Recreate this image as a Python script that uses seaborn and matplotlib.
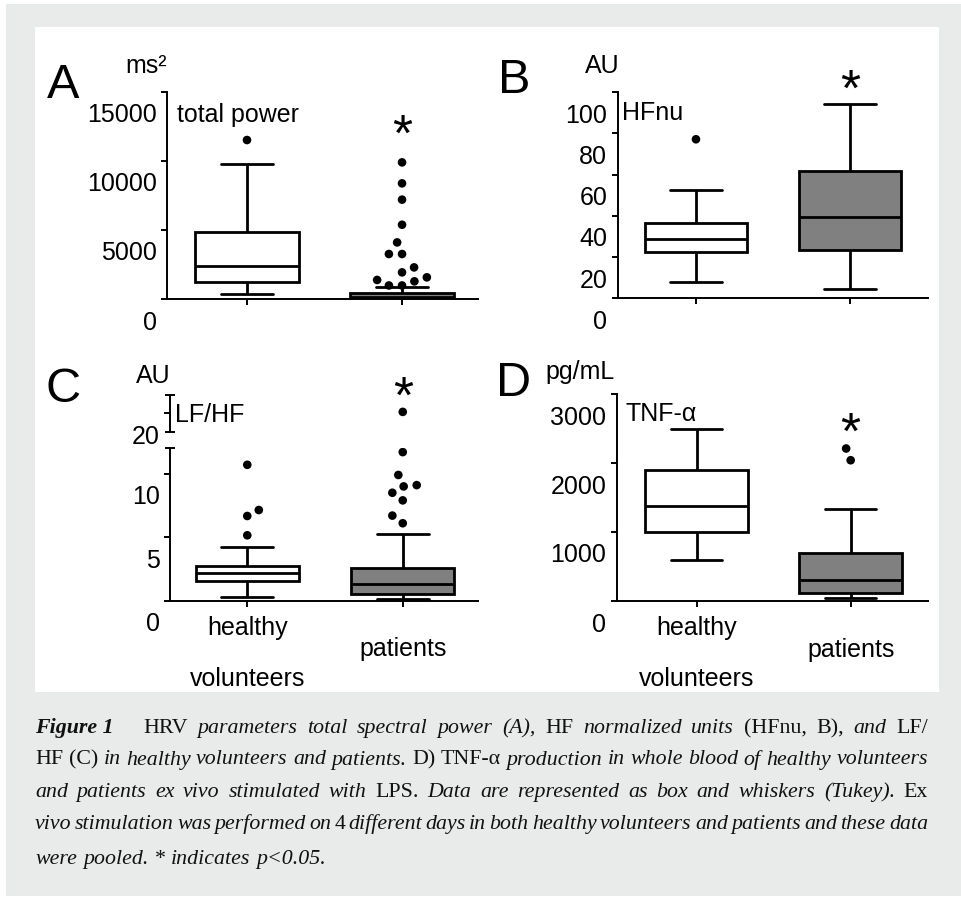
import numpy as np
import pandas as pd
import matplotlib
matplotlib.use("Agg")
import matplotlib.pyplot as plt
import matplotlib.transforms as mtransforms
from matplotlib.patches import Rectangle
from matplotlib.ticker import FixedLocator
import seaborn as sns

# ---------------------------------------------------------------- data
groups = ["healthy volunteers", "patients"]
box_colors = ["#ffffff", "#808080"]

# Tukey box summaries per group: lower whisker, Q1, median, Q3, upper whisker
power_healthy = [362, 1232, 2391, 4855, 9783]
power_patients = [10, 40, 150, 420, 850]
power_out_healthy = [11520]
power_out_patients = [9900, 8380, 7200, 5380, 4100, 3260, 3260, 2290, 1930,
                      1570, 1380, 1280, 980, 980]

hfnu_healthy = [7.8, 22.6, 28.6, 36.7, 52.6]
hfnu_patients = [4.4, 23.4, 39.3, 61.9, 94.3]
hfnu_out_healthy = [77.2]
hfnu_out_patients = []

lfhf_healthy = [0.27, 1.58, 2.16, 2.76, 4.26]
lfhf_patients = [0.10, 0.50, 1.32, 2.56, 5.26]
lfhf_out_healthy = [10.7, 7.14, 6.67, 5.15]
lfhf_out_patients = [20.4, 11.7, 9.9, 9.1, 9.0, 8.5, 7.9, 6.7, 6.1]

tnf_healthy = [594, 1004, 1381, 1899, 2488]
tnf_patients = [39, 111, 304, 700, 1329]
tnf_out_healthy = []
tnf_out_patients = [2210, 2040]

power_ticks = [0, 5000, 10000, 15000]
hfnu_ticks = [0, 20, 40, 60, 80, 100]
lfhf_ticks_low = [0, 5, 10]
lfhf_ticks_high = [20]
tnf_ticks = [0, 1000, 2000, 3000]
xtick_labels = ["healthy\n\nvolunteers", "\npatients"]

caption_lines = [
    [("Figure 1", "b"), ("HRV", "r"), ("parameters", "i"), ("total", "i"),
     ("spectral", "i"), ("power", "i"), ("(A),", "i"), ("HF", "r"),
     ("normalized", "i"), ("units", "i"), ("(HFnu,", "r"), ("B),", "r"),
     ("and", "i"), ("LF/", "r")],
    [("HF", "r"), ("(C)", "r"), ("in", "i"), ("healthy", "i"),
     ("volunteers", "i"), ("and", "i"), ("patients.", "i"), ("D)", "r"),
     ("TNF-α", "r"), ("production", "i"), ("in", "i"), ("whole", "i"),
     ("blood", "i"), ("of", "i"), ("healthy", "i"), ("volunteers", "i")],
    [("and", "i"), ("patients", "i"), ("ex", "i"), ("vivo", "i"),
     ("stimulated", "i"), ("with", "i"), ("LPS.", "r"), ("Data", "i"),
     ("are", "i"), ("represented", "i"), ("as", "i"), ("box", "i"),
     ("and", "i"), ("whiskers", "i"), ("(Tukey).", "i"), ("Ex", "r")],
    [("vivo", "i"), ("stimulation", "i"), ("was", "i"), ("performed", "i"),
     ("on", "i"), ("4", "r"), ("different", "i"), ("days", "i"), ("in", "i"),
     ("both", "i"), ("healthy", "i"), ("volunteers", "i"), ("and", "i"),
     ("patients", "i"), ("and", "i"), ("these", "i"), ("data", "i")],
    [("were", "i"), ("pooled.", "i"), ("*", "i"), ("indicates", "i"),
     ("p<0.05.", "i")],
]

# ---------------------------------------------------------------- style
sns.set_theme(style="ticks")
plt.rcParams["font.family"] = ["Liberation Sans", "DejaVu Sans"]
plt.rcParams["axes.linewidth"] = 1.4
plt.rcParams["text.color"] = "black"

W, H = 961, 897
DPI = 100
fig = plt.figure(figsize=(W / DPI, H / DPI), dpi=DPI, facecolor="white")


def fx(x):
    return x / W


def fy(y):
    return 1 - y / H


# page background: grey frame with a white plotting area
fig.patches.append(Rectangle((fx(6), fy(896)), fx(955), 892 / H,
                             transform=fig.transFigure, facecolor="#e9eaea",
                             edgecolor="none", zorder=-3))
fig.patches.append(Rectangle((fx(35), fy(692)), fx(904), 665 / H,
                             transform=fig.transFigure, facecolor="white",
                             edgecolor="none", zorder=-2))


def add_axes_px(left, top, right, bottom):
    ax = fig.add_axes([fx(left), fy(bottom), (right - left) / W,
                       (bottom - top) / H])
    ax.set_facecolor("none")
    return ax


def frame(h, p):
    return pd.DataFrame({"group": [groups[0]] * len(h) + [groups[1]] * len(p),
                         "value": list(h) + list(p)})


TICK_FS = 18
label_shift = mtransforms.ScaledTranslation(0, -21 / DPI, fig.dpi_scale_trans)
label_spacing = [1.07, 0.86]


def draw_panel(ax, box_h, box_p, out_h, out_p, xlim, ylim, yticks,
               ylabels=None, keep=None, xlabels=None, bottom=True):
    sns.boxplot(data=frame(box_h, box_p), x="group", y="value", hue="group",
                order=groups, hue_order=groups,
                palette=dict(zip(groups, box_colors)), saturation=1,
                width=0.665, whis=np.inf, showfliers=False,
                linecolor="black", linewidth=2.0, legend=False, ax=ax)
    pts = frame(out_h, out_p)
    if keep is not None:
        pts = pts[(pts["value"] >= keep[0]) & (pts["value"] <= keep[1])]
    sns.swarmplot(data=pts, x="group", y="value", order=groups,
                  color="black", size=6.2, linewidth=2.8, edgecolor="none",
                  ax=ax)
    ax.set_xlim(*xlim)
    ax.set_ylim(*ylim)
    ax.set_xlabel("")
    ax.set_ylabel("")
    ax.yaxis.set_major_locator(FixedLocator(yticks))
    ax.set_yticklabels(ylabels if ylabels is not None
                       else [f"{t:g}" for t in yticks])
    ax.tick_params(axis="both", which="major", direction="out", length=4,
                   width=1.4, color="black", labelsize=TICK_FS,
                   labelcolor="black")
    for tick in ax.yaxis.get_major_ticks():
        tick.label1.set_transform(tick.label1.get_transform() + label_shift)
    if bottom:
        ax.set_xticks([0, 1])
        labs = ax.set_xticklabels(xlabels if xlabels is not None
                                  else ["", ""])
        for lab, ls in zip(labs, label_spacing):
            lab.set_linespacing(ls)
        ax.tick_params(axis="x", pad=7)
        sns.despine(ax=ax)
    else:
        ax.set_xticks([])
        sns.despine(ax=ax, bottom=True)
    for sp in ax.spines.values():
        sp.set_color("black")
        sp.set_linewidth(1.4)


def panel_text(x, y, s, size=TICK_FS, **kw):
    fig.text(fx(x), fy(y), s, fontsize=size, ha=kw.pop("ha", "left"),
             va=kw.pop("va", "baseline"), color="black", **kw)


def star(ax, y_center):
    tr = mtransforms.blended_transform_factory(ax.transData, fig.transFigure)
    ax.text(1, fy(y_center + 27), "*", transform=tr, fontsize=37,
            ha="center", va="baseline", color="black", clip_on=False)


# A: total power
axA = add_axes_px(167, 92, 478, 299)
draw_panel(axA, power_healthy, power_patients, power_out_healthy,
           power_out_patients, (-0.516, 1.49), (0, 15000), power_ticks)
star(axA, 124)

# B: HFnu
axB = add_axes_px(617.7, 92.3, 928, 298.3)
draw_panel(axB, hfnu_healthy, hfnu_patients, hfnu_out_healthy,
           hfnu_out_patients, (-0.508, 1.506), (0, 100), hfnu_ticks)
star(axB, 79)

# C: LF/HF on a broken axis
axC = add_axes_px(170, 448.3, 478, 600.7)
draw_panel(axC, lfhf_healthy, lfhf_patients, lfhf_out_healthy,
           lfhf_out_patients, (-0.497, 1.484), (0, 12), lfhf_ticks_low,
           keep=(0, 12), xlabels=xtick_labels)
axC.yaxis.set_minor_locator(FixedLocator([12]))
axC.tick_params(axis="y", which="minor", direction="inout", length=7,
                width=1.4, color="black")

axC2 = add_axes_px(170, 395, 478, 431.7)
draw_panel(axC2, lfhf_healthy, lfhf_patients, lfhf_out_healthy,
           lfhf_out_patients, (-0.497, 1.484), (15, 25), lfhf_ticks_high,
           keep=(15, 25), bottom=False)
axC2.yaxis.set_minor_locator(FixedLocator([15, 25]))
axC2.tick_params(axis="y", which="minor", direction="inout", length=7,
                 width=1.4, color="black")
star(axC2, 386)

# D: TNF-alpha
axD = add_axes_px(616.7, 394, 928.3, 601)
draw_panel(axD, tnf_healthy, tnf_patients, tnf_out_healthy,
           tnf_out_patients, (-0.519, 1.504), (0, 3000), tnf_ticks,
           xlabels=xtick_labels)
star(axD, 422)

# panel letters, units and parameter names
for letter, x, y in [("A", 47, 98.3), ("B", 498, 92.7), ("C", 46, 401.5),
                     ("D", 496, 396)]:
    panel_text(x, y, letter, size=35)
panel_text(125, 73.3, "ms²")
panel_text(585, 73.3, "AU")
panel_text(136, 383.3, "AU")
panel_text(545.7, 379.3, "pg/mL")
panel_text(176.7, 121.7, "total power")
panel_text(622, 120, "HFnu")
panel_text(175, 421.7, "LF/HF")
panel_text(625, 420.7, "TNF-α")

# ---------------------------------------------------------------- caption
cap_styles = {"i": dict(style="italic"),
              "r": dict(style="normal"),
              "b": dict(style="italic", weight="bold")}
cap_left, cap_right = 35, 928
cap_baselines = [733, 764.5, 796.5, 829, 864]
lead_gap = 20

fig.canvas.draw()
renderer = fig.canvas.get_renderer()


def build_caption(fs):
    made = []
    for line, yb in zip(caption_lines, cap_baselines):
        arts = [fig.text(0, fy(yb), tok, fontsize=fs, color="#111111",
                         fontfamily=["Liberation Serif", "DejaVu Serif"],
                         va="baseline", ha="left", **cap_styles[st])
                for tok, st in line]
        widths = [a.get_window_extent(renderer).width for a in arts]
        made.append((arts, widths))
    return made


cap_fs = 17.3
made = build_caption(cap_fs)
needed = max((sum(w) + (len(w) - 1) * 4 + (lead_gap if i == 0 else 0))
             / (cap_right - cap_left) for i, (a, w) in enumerate(made[:-1]))
if needed > 1:
    for arts, _ in made:
        for a in arts:
            a.remove()
    cap_fs = cap_fs / needed
    made = build_caption(cap_fs)

for i, (arts, widths) in enumerate(made):
    extra = lead_gap if i == 0 else 0
    if i < len(made) - 1:
        gap = (cap_right - cap_left - sum(widths) - extra) / (len(arts) - 1)
    else:
        gap = 0.27 * cap_fs * DPI / 72
    x = cap_left
    for j, (a, w) in enumerate(zip(arts, widths)):
        a.set_x(fx(x))
        x += w + gap + (extra if j == 0 else 0)

fig.savefig("out.png", dpi=DPI, facecolor="white")
